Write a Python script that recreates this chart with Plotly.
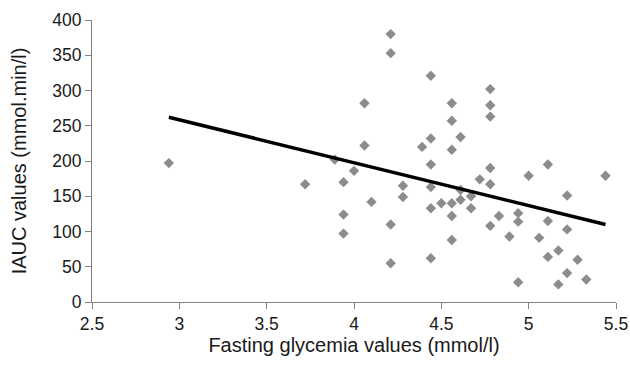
import plotly.graph_objects as go

# Scatter data: fasting glycemia (mmol/l) vs IAUC (mmol.min/l)
glycemia = [2.94, 3.72, 3.89, 3.94, 3.94, 3.94, 4.00, 4.06, 4.06, 4.10,
            4.21, 4.21, 4.21, 4.21, 4.28, 4.28, 4.39, 4.44, 4.44, 4.44,
            4.44, 4.44, 4.44, 4.50, 4.56, 4.56, 4.56, 4.56, 4.56, 4.56,
            4.61, 4.61, 4.61, 4.67, 4.67, 4.72, 4.78, 4.78, 4.78, 4.78,
            4.78, 4.78, 4.83, 4.89, 4.94, 4.94, 4.94, 5.00, 5.06, 5.11,
            5.11, 5.11, 5.17, 5.17, 5.22, 5.22, 5.22, 5.28, 5.33, 5.44]
iauc = [197, 167, 202, 170, 124, 97, 186, 282, 222, 142,
        380, 353, 110, 55, 165, 149, 220, 321, 232, 195,
        163, 133, 62, 140, 282, 257, 216, 140, 122, 88,
        234, 159, 145, 150, 133, 174, 302, 279, 263, 190,
        167, 108, 122, 93, 126, 114, 28, 179, 91, 195,
        115, 64, 73, 25, 151, 103, 41, 60, 32, 179]

# Trend line end points
trend_x = [2.94, 5.44]
trend_y = [262, 110]

x_ticks = [2.5, 3, 3.5, 4, 4.5, 5, 5.5]
y_ticks = [0, 50, 100, 150, 200, 250, 300, 350, 400]

fig = go.Figure()
fig.add_trace(go.Scatter(
    x=glycemia, y=iauc, mode="markers",
    marker=dict(symbol="diamond", size=8, color="#8c8c8c"),
    showlegend=False,
))
fig.add_trace(go.Scatter(
    x=trend_x, y=trend_y, mode="lines",
    line=dict(color="black", width=3.5),
    showlegend=False,
))

fam = "Liberation Sans, Arial, sans-serif"
tick_font = dict(family=fam, size=17.5, color="#1a1a1a")
title_font = dict(family=fam, size=20, color="#1a1a1a")
axis_common = dict(
    showgrid=False, zeroline=False, showline=True, linecolor="#808080",
    linewidth=1, ticks="outside", ticklen=6, tickcolor="#808080", tickwidth=1,
    tickfont=tick_font, automargin=False, ticklabeloverflow="allow",
)
fig.update_layout(
    width=630, height=365,
    margin=dict(l=92, r=14, t=20, b=63),
    plot_bgcolor="white", paper_bgcolor="white",
    font=tick_font,
    xaxis=dict(range=[2.5, 5.5], tickvals=x_ticks,
               ticktext=[str(v) for v in x_ticks],
               title=dict(text="Fasting glycemia values (mmol/l)", font=title_font, standoff=2),
               **axis_common),
    yaxis=dict(range=[0, 400], tickvals=y_ticks,
               ticktext=[str(v) for v in y_ticks],
               title=dict(text="IAUC values (mmol.min/l)", font=title_font, standoff=20),
               **axis_common),
)
# Remove the default page margin so the figure fills the window exactly.
fig.write_html(
    "out.html",
    config={"displayModeBar": False},
    post_script="document.body.style.margin='0';document.body.style.overflow='hidden';",
)
